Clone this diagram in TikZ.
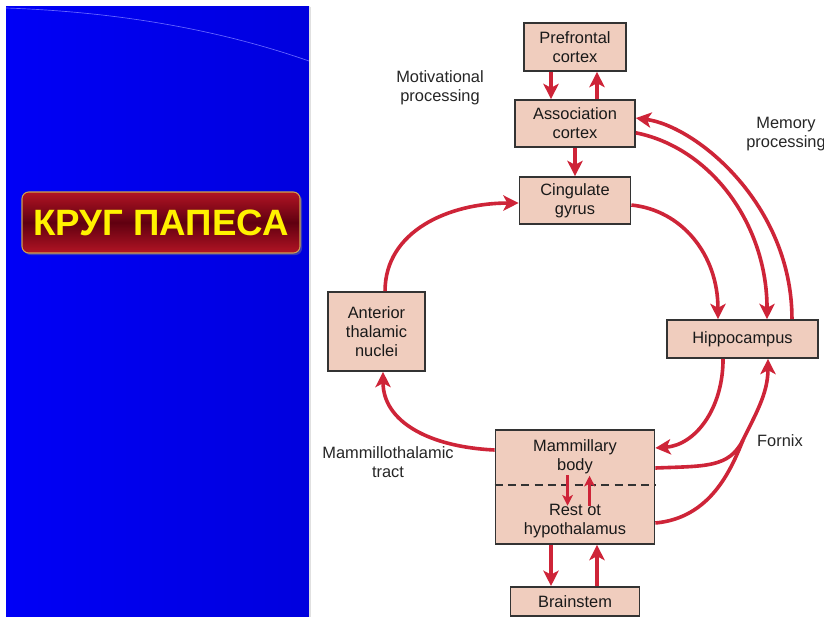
\documentclass[tikz,border=0pt]{standalone}
\usepackage{fontspec}
\setmainfont{Liberation Sans}
\usetikzlibrary{arrows.meta,shadows}
\definecolor{boxfill}{RGB}{240,205,190}
\definecolor{arrred}{RGB}{206,36,56}
\definecolor{panelblue}{RGB}{0,0,246}
\definecolor{panelblue2}{RGB}{0,0,222}
\definecolor{titlered}{RGB}{178,20,36}
\definecolor{titledark}{RGB}{96,0,16}
\definecolor{titlegold}{RGB}{205,160,80}
\definecolor{titleyellow}{RGB}{255,242,0}
\begin{document}
\begin{tikzpicture}[x=0.75pt,y=-0.75pt,
  box/.style={draw=black!80, line width=1.3pt, fill=boxfill, align=center, inner sep=0pt,
    font=\fontsize{12.3}{14.3}\selectfont, text=black!90},
  txt/.style={align=center, inner sep=0pt, font=\fontsize{12.3}{14.3}\selectfont, text=black!90},
  lbl/.style={align=center, inner sep=0pt, font=\fontsize{12.3}{14.3}\selectfont, text=black!85},
  conn/.style={draw=arrred, line width=2.7pt, -{Stealth[length=11.5pt,width=11.5pt,inset=3pt]}},
  plain/.style={draw=arrred, line width=2.7pt},
  small/.style={draw=arrred, line width=2pt, -{Stealth[length=8pt,width=8pt,inset=2pt]}},
  titlebox/.style={rounded corners=5pt, draw=titlegold, line width=0.8pt,
    top color=titlered, bottom color=titlered, middle color=titledark,
    minimum width=208.5pt, minimum height=45.75pt, inner sep=0pt,
    font=\fontsize{27.5}{30}\selectfont\bfseries, text=titleyellow,
    drop shadow={opacity=0.45, shadow xshift=1.5pt, shadow yshift=-1.5pt}}
]
\useasboundingbox (0,0) rectangle (824,617);
\fill[white] (0,0) rectangle (824,617);
% left panel
\shade[left color=panelblue, right color=panelblue2] (6,7) rectangle (309,617);
\draw[blue!60!white, line width=0.5pt] (6,8) .. controls (120,12) and (220,30) .. (309,61);
\draw[black!12, line width=0.8pt] (310,7) -- (310,617);
\node[titlebox] (title) at (161,222.5) {КРУГ ПАПЕСА};

% boxes
\node[box, minimum width=76.5pt, minimum height=36pt] (pref) at (575,47) {Prefrontal\\cortex};
\node[box, minimum width=90pt, minimum height=35.25pt] (assoc) at (575,123.5) {Association\\cortex};
\node[box, minimum width=83.25pt, minimum height=35.25pt] (cing) at (575,200.5) {Cingulate\\gyrus};
\node[box, minimum width=72.75pt, minimum height=59.25pt] (ant) at (376.5,331.5) {Anterior\\thalamic\\nuclei};
\node[box, minimum width=113.25pt, minimum height=28.5pt] (hippo) at (742.5,339) {Hippocampus};
\node[box, minimum width=119.25pt, minimum height=85.5pt] (hyp) at (575,487) {};
\node[txt] (mam) at (575,457) {Mammillary\\body};
\node[txt] (rest) at (575,521) {Rest ot\\hypothalamus};
\node[box, minimum width=96.75pt, minimum height=22pt] (brain) at (575,601.5) {Brainstem};
\draw[black!80, line width=1.2pt, dash pattern=on 6pt off 4pt]
  ([yshift=1.5pt]hyp.west) -- ([yshift=1.5pt]hyp.east);

% labels
\node[lbl] (mot) at (440,88) {Motivational\\processing};
\node[lbl] (mem) at (786,134) {Memory\\processing};
\node[lbl] (mtt) at (388,462) {Mammillothalamic\\tract};
\node[lbl] (forn) at (780,441) {Fornix};

% straight arrows
\draw[conn] ([xshift=-18pt]pref.south) -- ([xshift=-18pt]assoc.north);
\draw[conn] ([xshift=16.5pt]assoc.north) -- ([xshift=16.5pt]pref.south);
\draw[conn] (assoc.south) -- (cing.north);
\draw[conn] ([xshift=-18pt]hyp.south) -- ([xshift=-18pt]brain.north);
\draw[conn] ([xshift=16.5pt]brain.north) -- ([xshift=16.5pt]hyp.south);
\draw[small] ([xshift=-5.6pt,yshift=9pt]hyp.center) -- ([xshift=-5.6pt,yshift=-14pt]hyp.center);
\draw[small] ([xshift=10.9pt,yshift=-14pt]hyp.center) -- ([xshift=10.9pt,yshift=8.5pt]hyp.center);

% curved arrows
\draw[conn] ([yshift=-3.4pt]cing.east) .. controls +(50,5) and +(0,-65) .. ([xshift=-18.4pt]hippo.north);
\draw[conn] ([yshift=-7pt]assoc.east) .. controls +(75,15) and +(0,-95) .. ([xshift=18.4pt]hippo.north);
\draw[conn] ([xshift=37.1pt]hippo.north) .. controls +(0,-115) and +(60,8) .. ([yshift=4.1pt]assoc.east);
\draw[conn] ([xshift=6.4pt]ant.north) .. controls +(0,-60) and +(-70,0) .. ([yshift=-1.9pt]cing.west);
\draw[conn] ([yshift=27.75pt]hyp.west) .. controls +(-65,-3) and +(0,50) .. ([xshift=4.9pt]ant.south);
\draw[conn] ([xshift=-14.6pt]hippo.south) .. controls +(0,50) and +(40,-3) .. ([yshift=29.25pt]hyp.east);
\coordinate (fx) at (743,440);
\draw[plain] ([yshift=14.25pt]hyp.east) .. controls +(50,-2) and +(-14,28) .. (fx);
\draw[plain] ([yshift=-27pt]hyp.east) .. controls +(55,-5) and +(-12,30) .. (fx);
\draw[conn] (fx) .. controls +(12,-25) and +(0,35) .. ([xshift=19.1pt]hippo.south);
\end{tikzpicture}
\end{document}
